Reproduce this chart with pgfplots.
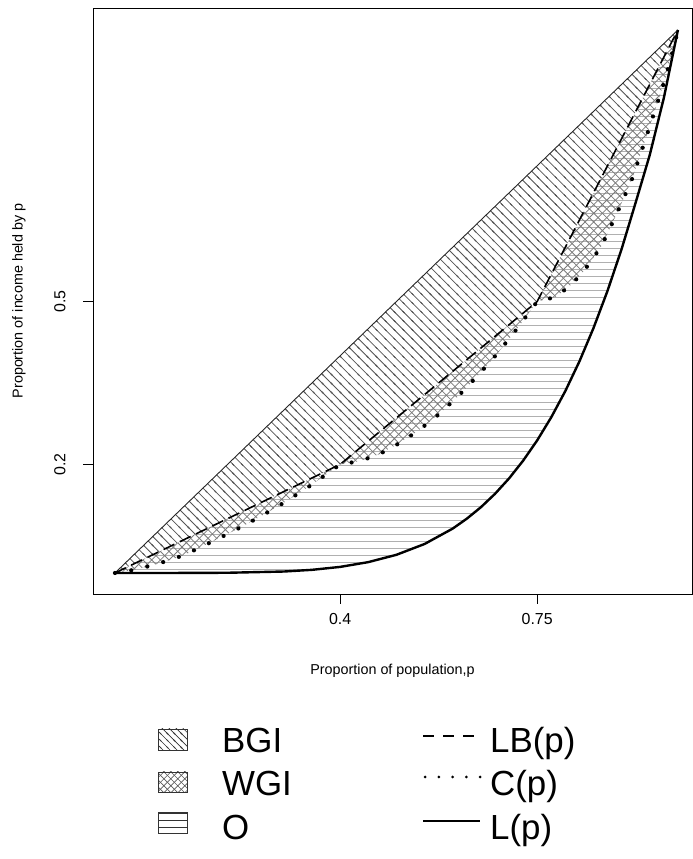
\documentclass[border=0pt]{standalone}
\usepackage{fontspec}
\setmainfont{Liberation Sans}
\usepackage{pgfplots}
\pgfplotsset{compat=1.18}
\usepgfplotslibrary{fillbetween}
\usetikzlibrary{patterns}

\definecolor{bgiline}{HTML}{555555}
\definecolor{wgiline}{HTML}{7A7A7A}
\definecolor{oline}{HTML}{B0B0B0}

% hatch patterns for the three regions
\pgfdeclarepatternformonly{bgihatch}{\pgfqpoint{-1pt}{-1pt}}{\pgfqpoint{10pt}{10pt}}{\pgfqpoint{9pt}{9pt}}{%
  \pgfsetlinewidth{0.8pt}
  \pgfpathmoveto{\pgfqpoint{0pt}{9pt}}\pgfpathlineto{\pgfqpoint{9pt}{0pt}}
  \pgfpathmoveto{\pgfqpoint{-1pt}{1pt}}\pgfpathlineto{\pgfqpoint{1pt}{-1pt}}
  \pgfpathmoveto{\pgfqpoint{8pt}{10pt}}\pgfpathlineto{\pgfqpoint{10pt}{8pt}}
  \pgfusepath{stroke}}
\pgfdeclarepatternformonly{wgihatch}{\pgfqpoint{-1pt}{-1pt}}{\pgfqpoint{9.7pt}{9.7pt}}{\pgfqpoint{8.7pt}{8.7pt}}{%
  \pgfsetlinewidth{0.8pt}
  \pgfpathmoveto{\pgfqpoint{0pt}{0pt}}\pgfpathlineto{\pgfqpoint{8.7pt}{8.7pt}}
  \pgfpathmoveto{\pgfqpoint{0pt}{8.7pt}}\pgfpathlineto{\pgfqpoint{8.7pt}{0pt}}
  \pgfusepath{stroke}}
\pgfdeclarepatternformonly{ohatch}{\pgfqpoint{-1pt}{-1pt}}{\pgfqpoint{8pt}{8pt}}{\pgfqpoint{7pt}{7pt}}{%
  \pgfsetlinewidth{0.9pt}
  \pgfpathmoveto{\pgfqpoint{-1pt}{3.5pt}}\pgfpathlineto{\pgfqpoint{8pt}{3.5pt}}
  \pgfusepath{stroke}}
% versions for the legend boxes
\pgfdeclarepatternformonly{bgismall}{\pgfqpoint{-1pt}{-1pt}}{\pgfqpoint{8pt}{8pt}}{\pgfqpoint{7pt}{7pt}}{%
  \pgfsetlinewidth{0.6pt}
  \pgfpathmoveto{\pgfqpoint{0pt}{7pt}}\pgfpathlineto{\pgfqpoint{7pt}{0pt}}
  \pgfpathmoveto{\pgfqpoint{-1pt}{1pt}}\pgfpathlineto{\pgfqpoint{1pt}{-1pt}}
  \pgfpathmoveto{\pgfqpoint{6pt}{8pt}}\pgfpathlineto{\pgfqpoint{8pt}{6pt}}
  \pgfusepath{stroke}}
\pgfdeclarepatternformonly{wgismall}{\pgfqpoint{-1pt}{-1pt}}{\pgfqpoint{8pt}{8pt}}{\pgfqpoint{7pt}{7pt}}{%
  \pgfsetlinewidth{0.6pt}
  \pgfpathmoveto{\pgfqpoint{0pt}{0pt}}\pgfpathlineto{\pgfqpoint{7pt}{7pt}}
  \pgfpathmoveto{\pgfqpoint{0pt}{7pt}}\pgfpathlineto{\pgfqpoint{7pt}{0pt}}
  \pgfusepath{stroke}}
\pgfdeclarepatternformonly{osmall}{\pgfqpoint{-1pt}{-1pt}}{\pgfqpoint{8pt}{8pt}}{\pgfqpoint{7pt}{7pt}}{%
  \pgfsetlinewidth{0.6pt}
  \pgfpathmoveto{\pgfqpoint{-1pt}{3.5pt}}\pgfpathlineto{\pgfqpoint{8pt}{3.5pt}}
  \pgfusepath{stroke}}

% Lorenz curve L(p)
\pgfplotstableread{
p L
0 0
0.1 0.00001
0.2 0.0004
0.3 0.0027
0.35 0.0058
0.4 0.0112
0.45 0.0200
0.5 0.0335
0.55 0.0534
0.6 0.0818
0.625 0.1000
0.65 0.1211
0.675 0.1457
0.7 0.1741
0.725 0.2068
0.75 0.2442
0.775 0.2868
0.8 0.3351
0.825 0.3896
0.85 0.4510
0.875 0.5198
0.9 0.5967
0.925 0.6825
0.95 0.7700
0.975 0.8750
1 1
}\lorenz

% concentration curve C(p)
\pgfplotstableread{
p C
0 0
0.032 0.0055
0.062 0.013
0.092 0.022
0.123 0.033
0.151 0.047
0.179 0.061
0.208 0.076
0.234 0.090
0.263 0.107
0.290 0.123
0.316 0.140
0.343 0.158
0.369 0.177
0.4 0.2
0.435 0.206
0.47 0.219
0.505 0.239
0.54 0.263
0.575 0.292
0.61 0.326
0.645 0.364
0.68 0.405
0.715 0.451
0.75 0.5
0.782 0.508
0.806 0.527
0.829 0.551
0.847 0.576
0.865 0.604
0.892 0.663
0.918 0.724
0.938 0.785
0.957 0.845
0.979 0.915
0.993 0.970
1 1
}\conc

% between-group Lorenz curve LB(p)
\pgfplotstableread{
p LB
0 0
0.4 0.2
0.75 0.5
1 1
}\lbcurve

\begin{document}
\begin{tikzpicture}
\begin{axis}[
  at={(93bp,265bp)}, anchor=south west,
  scale only axis, width=599bp, height=586bp,
  xmin=-0.039, xmax=1.025, ymin=-0.0387, ymax=1.0405,
  xtick={0.4,0.75}, xticklabels={0.4,0.75},
  ytick={0.2,0.5}, yticklabels={0.2,0.5},
  tick pos=left, tick align=outside,
  major tick length=10bp,
  tick style={black, line width=0.7bp},
  axis line style={black, line width=0.8bp},
  /pgf/number format/assume math mode=true,
  xticklabel style={font=\fontsize{16}{19}\selectfont, anchor=center, yshift=-15bp},
  yticklabel style={font=\fontsize{16}{19}\selectfont, rotate=90, anchor=center, yshift=23bp},
  xlabel={Proportion of population,p},
  ylabel={Proportion of income held by p},
  label style={font=\fontsize{14.4}{17}\selectfont},
  xlabel style={at={(axis description cs:0.5,-0.1314)}, anchor=center},
  ylabel style={at={(axis description cs:-0.1235,0.5)}, anchor=center},
]
\addplot[name path=diag, draw=black!85, line width=0.9bp] coordinates {(0,0) (1,1)};
\addplot[name path=lb, draw=none] table[x=p, y=LB] {\lbcurve};
\addplot[name path=cc, draw=none] table[x=p, y=C] {\conc};
\addplot[name path=ll, draw=none] table[x=p, y=L] {\lorenz};

% O region: horizontal lines
\addplot[pattern=ohatch, pattern color=oline, draw=none] fill between[of=lb and ll];
% WGI region: cross hatch
\addplot[pattern=wgihatch, pattern color=wgiline, draw=none] fill between[of=lb and cc];
% BGI region: diagonal lines
\addplot[pattern=bgihatch, pattern color=bgiline, draw=none] fill between[of=diag and lb];

\addplot[black, line width=1.6bp, dash pattern=on 12bp off 6bp] table[x=p, y=LB] {\lbcurve};
\addplot[black, line width=4.2bp, line cap=round, dash pattern=on 0bp off 16.5bp] table[x=p, y=C] {\conc};
\addplot[black, line width=2.4bp, line join=round] table[x=p, y=L] {\lorenz};
\end{axis}

% legend
\begin{scope}[font=\fontsize{35}{40}\selectfont]
  \fill[pattern=bgismall, pattern color=black!80] (158bp,109bp) rectangle (187bp,130bp);
  \draw[black!80, line width=0.7bp] (158bp,109bp) rectangle (187bp,130bp);
  \fill[pattern=wgismall, pattern color=black!65] (158bp,67bp) rectangle (187bp,87bp);
  \draw[black!80, line width=0.7bp] (158bp,67bp) rectangle (187bp,87bp);
  \fill[pattern=osmall, pattern color=black!80] (158bp,26bp) rectangle (187bp,47bp);
  \draw[black!80, line width=0.7bp] (158bp,26bp) rectangle (187bp,47bp);
  \node[anchor=base west, inner sep=0pt] at (222bp,106bp) {BGI};
  \node[anchor=base west, inner sep=0pt] at (222bp,63bp) {WGI};
  \node[anchor=base west, inner sep=0pt] at (222bp,20bp) {O};
  \draw[black, line width=1.2bp, dash pattern=on 11bp off 9bp] (423bp,123bp) -- (480bp,123bp);
  \draw[black, line width=3bp, line cap=round, dash pattern=on 0bp off 13.8bp] (425bp,82bp) -- (481bp,82bp);
  \draw[black, line width=1.3bp] (423bp,38bp) -- (480bp,38bp);
  \node[anchor=base west, inner sep=0pt] at (490bp,106bp) {LB(p)};
  \node[anchor=base west, inner sep=0pt] at (490bp,63bp) {C(p)};
  \node[anchor=base west, inner sep=0pt] at (490bp,20bp) {L(p)};
\end{scope}
\pgfresetboundingbox
\path[use as bounding box] (0bp,0bp) rectangle (693bp,859bp);
\end{tikzpicture}
\end{document}
